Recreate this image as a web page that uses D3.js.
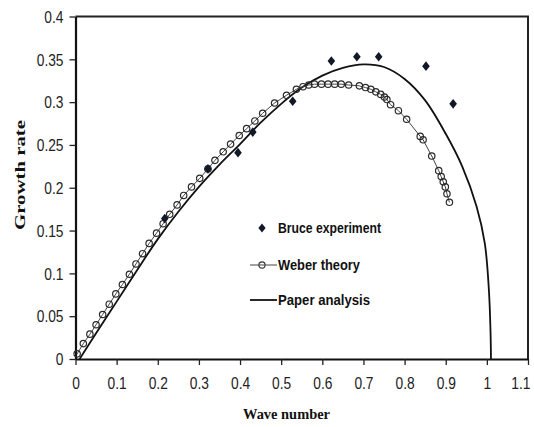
<!DOCTYPE html>
<html><head><meta charset="utf-8">
<script src="https://cdn.jsdelivr.net/npm/d3@7"></script>
<style>
html,body{margin:0;padding:0;background:#fff;}
svg{display:block;}
.tick text{font-family:"Liberation Sans",Arial,sans-serif;font-size:16px;fill:#222;}
</style></head>
<body>
<svg id="chart" width="534" height="427"></svg>
<script>
// ---- data ----
const xTicks = [0,0.1,0.2,0.3,0.4,0.5,0.6,0.7,0.8,0.9,1,1.1];
const xTickLabels = ["0","0.1","0.2","0.3","0.4","0.5","0.6","0.7","0.8","0.9","1","1.1"];
const yTicks = [0,0.05,0.1,0.15,0.2,0.25,0.3,0.35,0.4];
const yTickLabels = ["0","0.05","0.1","0.15","0.2","0.25","0.3","0.35","0.4"];

const bruceX = [0.217,0.322,0.395,0.431,0.528,0.622,0.684,0.737,0.852,0.918];
const bruceY = [0.164,0.222,0.241,0.265,0.301,0.348,0.353,0.353,0.342,0.298];

const weberX = [0.004,0.019,0.035,0.050,0.066,0.082,0.098,0.114,0.131,0.147,0.163,0.179,0.197,0.213,0.229,0.247,0.263,0.282,0.302,0.322,0.339,0.359,0.377,0.398,0.416,0.436,0.455,0.484,0.513,0.537,0.553,0.567,0.581,0.598,0.614,0.630,0.646,0.664,0.690,0.705,0.718,0.730,0.742,0.751,0.757,0.766,0.785,0.805,0.838,0.845,0.866,0.883,0.889,0.894,0.899,0.903,0.909];
const weberY = [0.006,0.018,0.029,0.040,0.052,0.064,0.076,0.087,0.099,0.111,0.123,0.135,0.147,0.158,0.169,0.180,0.191,0.201,0.211,0.222,0.232,0.242,0.251,0.261,0.269,0.278,0.287,0.299,0.308,0.315,0.318,0.320,0.321,0.321,0.321,0.321,0.321,0.320,0.319,0.317,0.315,0.312,0.309,0.306,0.303,0.297,0.290,0.280,0.260,0.256,0.237,0.220,0.213,0.207,0.201,0.193,0.183];

const paperX = [0.01,0.05,0.1,0.15,0.2,0.25,0.3,0.35,0.4,0.45,0.5,0.55,0.6,0.65,0.7,0.75,0.8,0.85,0.9,0.94,0.975,0.995,1.005,1.009,1.01];
const paperY = [0,0.030,0.067,0.104,0.140,0.172,0.201,0.227,0.251,0.276,0.298,0.317,0.331,0.340,0.344,0.341,0.327,0.302,0.263,0.225,0.178,0.135,0.080,0.030,0];

const legendLabels = ["Bruce experiment","Weber theory","Paper analysis"];
const xTitle = "Wave number";
const yTitle = "Growth rate";

// ---- drawing ----
const svg = d3.select("#chart");
const x = d3.scaleLinear().domain([0,1.1]).range([75.5,528]);
const y = d3.scaleLinear().domain([0,0.4]).range([359,16.5]);

const sans = '"Liberation Sans",Arial,sans-serif';
const serif = '"Liberation Serif","Times New Roman",serif';

// frame (top/right)
svg.append("path")
  .attr("d", `M${x(0)},${y(0.4)}H${x(1.1)}V${y(0)}`)
  .attr("fill","none").attr("stroke","#222").attr("stroke-width",2);

// axes
const xAxis = svg.append("g").attr("transform",`translate(0,${y(0)})`)
  .call(d3.axisBottom(x).tickValues(xTicks).tickSize(6).tickSizeOuter(0)
        .tickFormat((d,i)=>xTickLabels[i]));
const yAxis = svg.append("g").attr("transform",`translate(${x(0)},0)`)
  .call(d3.axisLeft(y).tickValues(yTicks).tickSize(6).tickSizeOuter(0)
        .tickFormat((d,i)=>yTickLabels[i]));
[xAxis,yAxis].forEach(g=>{
  g.select(".domain").attr("stroke","#111").attr("stroke-width",2.2);
  g.selectAll(".tick line").attr("stroke","#222").attr("stroke-width",1.3);
  g.selectAll(".tick text").each(function(){
    const w = this.getComputedTextLength();
    d3.select(this).attr("textLength", w*0.86).attr("lengthAdjust","spacingAndGlyphs");
  });
});
xAxis.selectAll(".tick text").attr("dy","0").attr("y",30);
yAxis.selectAll(".tick text").attr("x",-12).attr("dy","0.36em");
// keep last x label inside the picture
xAxis.selectAll(".tick").filter(d=>d===1.1).select("text")
  .attr("text-anchor","end").attr("x", 530 - x(1.1));

// paper analysis line
const paperData = paperX.map((d,i)=>[d,paperY[i]]);
svg.append("path").datum(paperData)
  .attr("d", d3.line().x(d=>x(d[0])).y(d=>y(d[1])).curve(d3.curveCatmullRom.alpha(0.5)))
  .attr("fill","none").attr("stroke","#111").attr("stroke-width",1.8);

// weber theory line + circles
const weberData = weberX.map((d,i)=>[d,weberY[i]]);
svg.append("path").datum(weberData)
  .attr("d", d3.line().x(d=>x(d[0])).y(d=>y(d[1])))
  .attr("fill","none").attr("stroke","#444").attr("stroke-width",1);
svg.append("g").selectAll("circle").data(weberData).join("circle")
  .attr("cx",d=>x(d[0])).attr("cy",d=>y(d[1])).attr("r",3.2)
  .attr("fill","none").attr("stroke","#2a2a2a").attr("stroke-width",1.2);

// bruce diamonds
const diamond = (cx,cy,w,h)=>`M${cx},${cy-h}L${cx+w},${cy}L${cx},${cy+h}L${cx-w},${cy}Z`;
const bruceData = bruceX.map((d,i)=>[d,bruceY[i]]);
svg.append("g").selectAll("path").data(bruceData).join("path")
  .attr("d",d=>diamond(x(d[0]),y(d[1]),3.8,4.8))
  .attr("fill","#111827");

// legend
const lg = svg.append("g");
lg.append("path").attr("d",diamond(262,228,3.6,4.6)).attr("fill","#111827");
lg.append("line").attr("x1",250).attr("x2",277).attr("y1",265).attr("y2",265)
  .attr("stroke","#444").attr("stroke-width",1);
lg.append("circle").attr("cx",262).attr("cy",265).attr("r",3.1)
  .attr("fill","none").attr("stroke","#333").attr("stroke-width",1.1);
lg.append("line").attr("x1",250).attr("x2",277).attr("y1",300).attr("y2",300)
  .attr("stroke","#111").attr("stroke-width",1.8);
const legY = [233,270,305];
const legW = [103,82,92];
lg.selectAll("text").data(legendLabels).join("text")
  .attr("x",278).attr("y",(d,i)=>legY[i])
  .attr("textLength",(d,i)=>legW[i]).attr("lengthAdjust","spacingAndGlyphs")
  .style("font-family",sans).style("font-size","14px").style("font-weight","bold")
  .attr("fill","#111").text(d=>d);

// axis titles
svg.append("text").attr("x",286.5).attr("y",419).attr("text-anchor","middle")
  .attr("textLength",87).attr("lengthAdjust","spacingAndGlyphs")
  .style("font-family",serif).style("font-size","15px").style("font-weight","bold")
  .attr("fill","#111").text(xTitle);
svg.append("text").attr("transform","translate(25,175) rotate(-90)")
  .attr("text-anchor","middle")
  .attr("textLength",110).attr("lengthAdjust","spacingAndGlyphs")
  .style("font-family",serif).style("font-size","15px").style("font-weight","bold")
  .attr("fill","#111").text(yTitle);
</script>
</body></html>
